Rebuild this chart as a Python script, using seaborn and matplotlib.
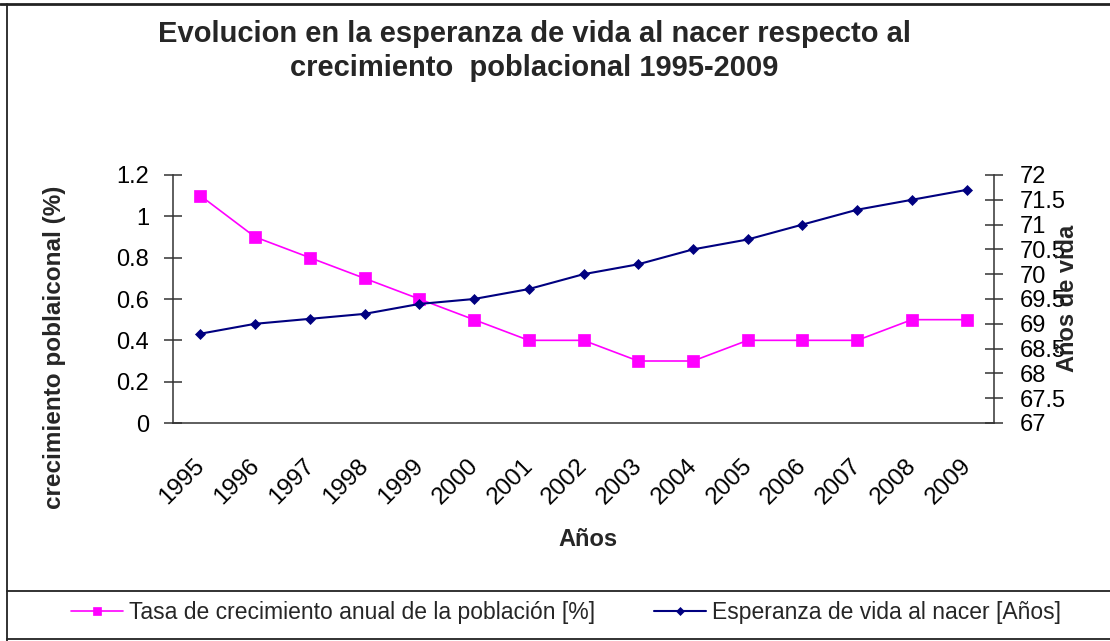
import matplotlib
matplotlib.use("Agg")
import matplotlib.pyplot as plt
import matplotlib.transforms as mtrans
from matplotlib.lines import Line2D
from matplotlib.ticker import FormatStrFormatter
import seaborn as sns
import pandas as pd
import numpy as np

# ---- data ----
years = [1995, 1996, 1997, 1998, 1999, 2000, 2001, 2002, 2003, 2004, 2005, 2006, 2007, 2008, 2009]
growth = [1.1, 0.9, 0.8, 0.7, 0.6, 0.5, 0.4, 0.4, 0.3, 0.3, 0.4, 0.4, 0.4, 0.5, 0.5]
life = [68.8, 69.0, 69.1, 69.2, 69.4, 69.5, 69.7, 70.0, 70.2, 70.5, 70.7, 71.0, 71.3, 71.5, 71.7]
left_ticks = [0, 0.2, 0.4, 0.6, 0.8, 1.0, 1.2]
right_ticks = [67, 67.5, 68, 68.5, 69, 69.5, 70, 70.5, 71, 71.5, 72]
year_labels = [str(y) for y in years]

title = "Evolucion en la esperanza de vida al nacer respecto al\ncrecimiento  poblacional 1995-2009"
label_growth = "Tasa de crecimiento anual de la población [%]"
label_life = "Esperanza de vida al nacer [Años]"

sns.set_style("white")
plt.rcParams["font.family"] = ["Liberation Sans", "DejaVu Sans"]

df = pd.DataFrame({"year": years, "growth": growth, "life": life})

W, H = 1110, 641
fig = plt.figure(figsize=(W / 100, H / 100), dpi=100)
L, R, T, B = 173, 994, 175, 423
ax = fig.add_axes([L / W, 1 - B / H, (R - L) / W, (B - T) / H])
ax2 = ax.twinx()

pink = "#FF00FF"
navy = "#000080"
axcol = "#333333"

sns.lineplot(data=df, x="year", y="growth", ax=ax, color=pink, lw=1.2,
             marker="s", markersize=8, markeredgecolor=pink, markeredgewidth=0.5,
             label=label_growth, legend=False)
sns.lineplot(data=df, x="year", y="life", ax=ax2, color=navy, lw=1.5,
             marker="D", markersize=5.3, markeredgecolor=navy, markeredgewidth=0.5,
             label=label_life, legend=False)

ax.set_xlim(years[0] - 0.5, years[-1] + 0.5)
ax.set_ylim(left_ticks[0], left_ticks[-1])
ax2.set_ylim(right_ticks[0], right_ticks[-1])

ax.set_yticks(left_ticks)
ax.yaxis.set_major_formatter(FormatStrFormatter("%g"))
ax2.set_yticks(right_ticks)
ax2.yaxis.set_major_formatter(FormatStrFormatter("%g"))

ax.set_xticks(years)
ax.set_xticklabels(year_labels, rotation=45, ha="right", va="top", rotation_mode="anchor")
ax.set_xticks(np.arange(years[0] - 0.5, years[-1] + 1, 1), minor=True)
ax.tick_params(axis="x", which="major", length=0, pad=23, labelsize=17.5, labelcolor="black")
ax.tick_params(axis="x", which="minor", direction="inout", length=12.5, width=1.1, color=axcol)
offset = mtrans.ScaledTranslation(-7 / 100, 0, fig.dpi_scale_trans)
for lab in ax.get_xticklabels():
    lab.set_transform(lab.get_transform() + offset)

ax.tick_params(axis="y", direction="inout", length=13.5, width=1.1, color=axcol,
               pad=10.5, labelsize=17, labelcolor="black", left=True)
ax2.tick_params(axis="y", direction="inout", length=13.5, width=1.1, color=axcol,
                pad=11.5, labelsize=17, labelcolor="black", right=True)

for a in (ax, ax2):
    a.grid(False)
    a.spines["top"].set_visible(False)
    for s in ("left", "right", "bottom"):
        a.spines[s].set_color(axcol)
        a.spines[s].set_linewidth(1.1)
ax.spines["right"].set_visible(False)
ax2.spines["left"].set_visible(False)
ax2.spines["bottom"].set_visible(False)

ax.set_xlabel("Años", fontsize=17, fontweight="bold", va="center")
ax.xaxis.set_label_coords((588 - L) / (R - L), (B - 540) / (B - T))
ax.set_ylabel("crecimiento poblaiconal (%)", fontsize=17.5, fontweight="bold", va="center")
ax.yaxis.set_label_coords((55 - L) / (R - L), (B - 347) / (B - T))
ax2.set_ylabel("Años de vida", fontsize=17, fontweight="bold", va="center", rotation=90)
ax2.yaxis.set_label_coords((1068 - L) / (R - L), (B - 298) / (B - T))

fig.text(534 / W, 1 - 51 / H, title, ha="center", va="center", fontsize=21,
         fontweight="bold", linespacing=1.25)

h1, l1 = ax.get_legend_handles_labels()
h2, l2 = ax2.get_legend_handles_labels()
fig.legend(h1 + h2, l1 + l2, loc="center", bbox_to_anchor=(566 / W, 1 - 613 / H),
           ncol=2, frameon=False, fontsize=16.5, handlelength=2.25,
           handletextpad=0.25, columnspacing=2.6, markerscale=0.8)

# frame lines
def fline(xs, ys, lw=1.5):
    fig.add_artist(Line2D([x / W for x in xs], [1 - y / H for y in ys],
                          transform=fig.transFigure, color="#222222", lw=lw))

fline([0, W], [4, 4], 2.0)
fline([7, 7], [4, 641], 1.3)
fline([7, W], [591, 591], 1.3)
fline([7, W], [639, 639], 1.3)

fig.savefig("out.png", dpi=100)
